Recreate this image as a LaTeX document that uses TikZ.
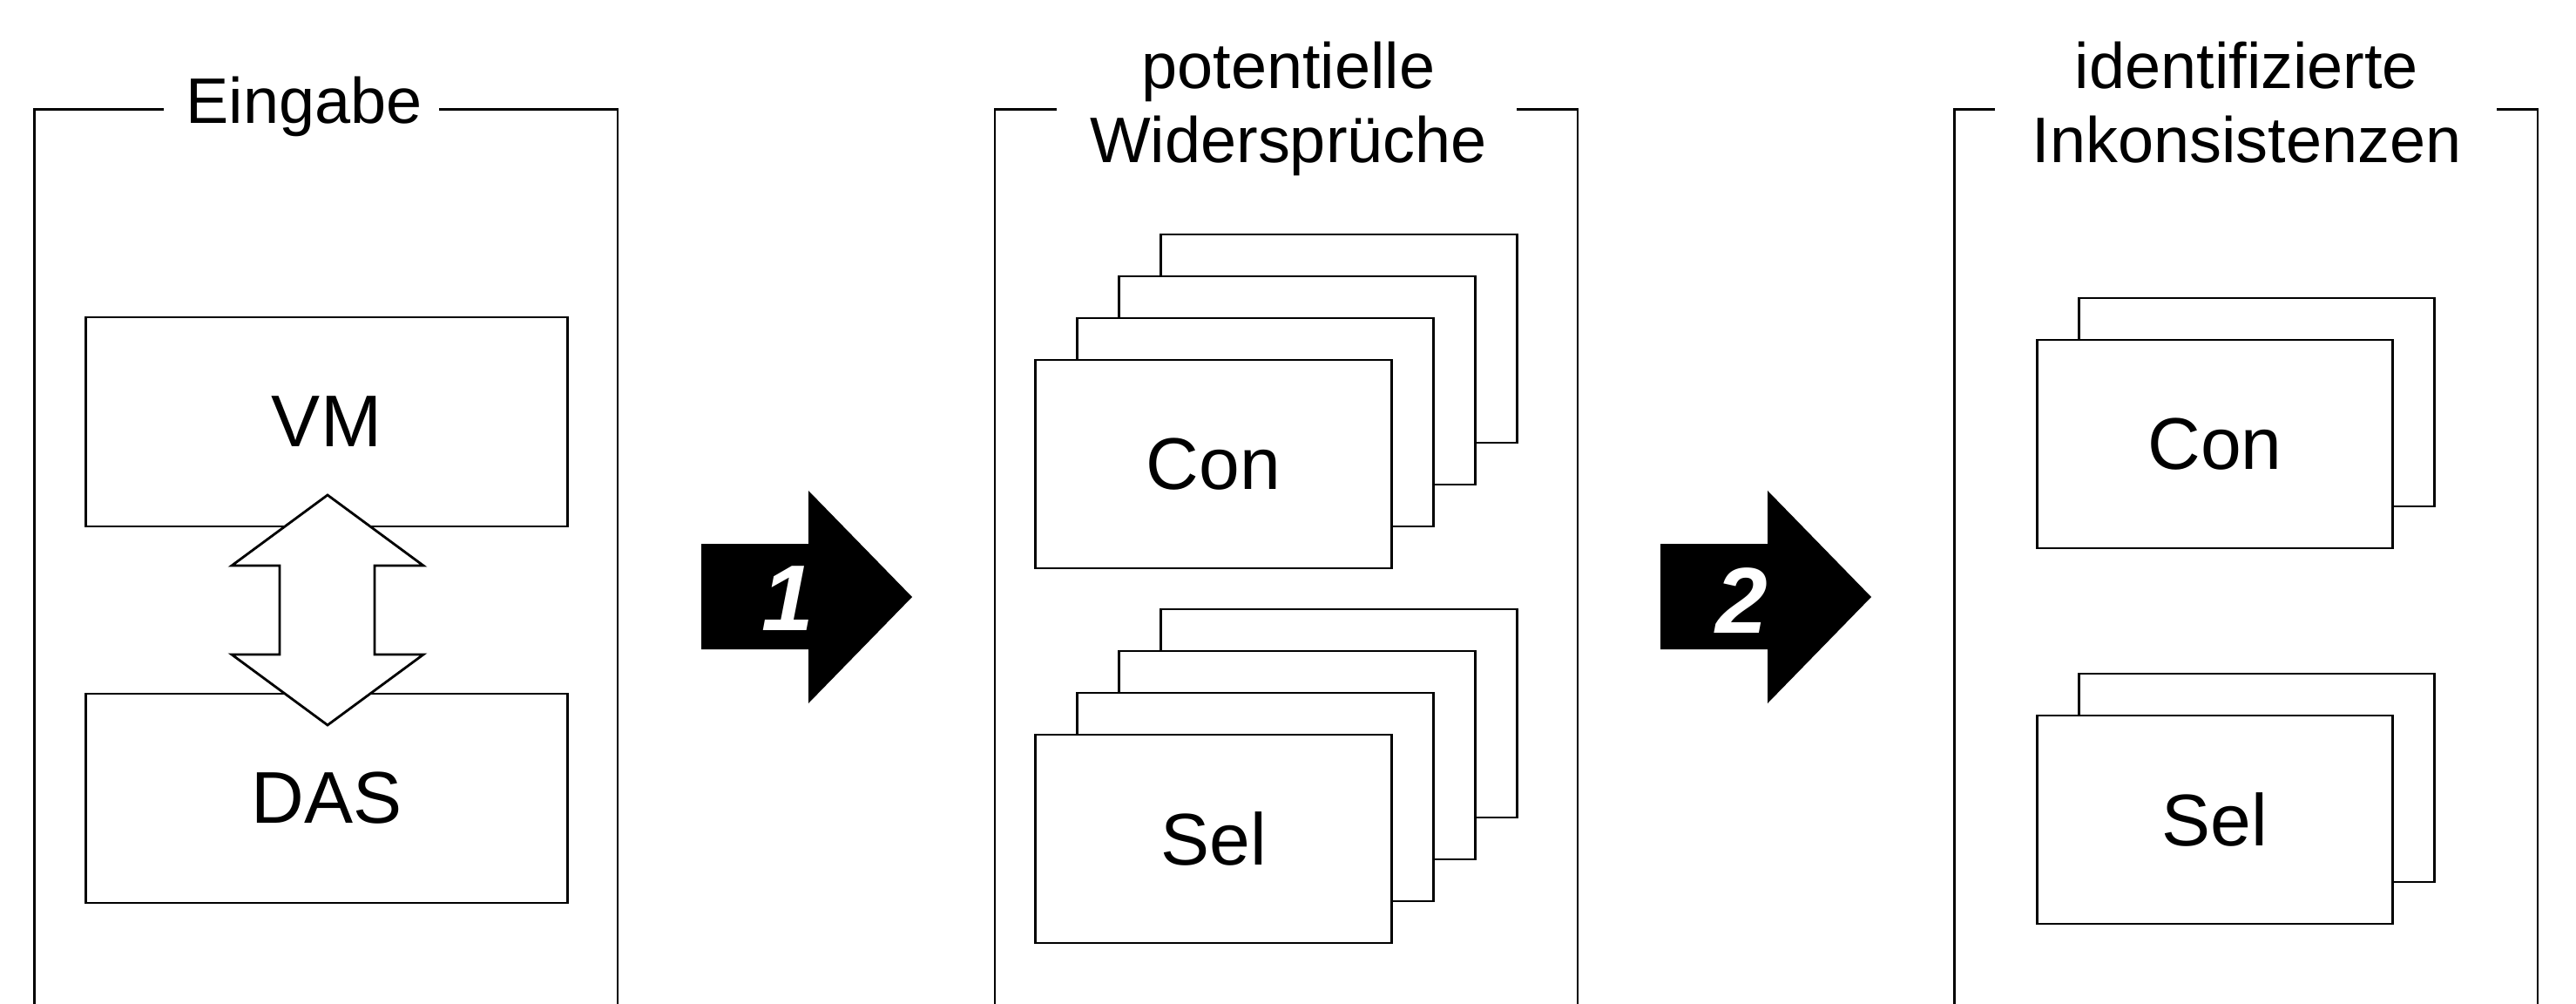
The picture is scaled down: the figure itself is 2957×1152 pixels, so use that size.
\documentclass[tikz,border=0pt]{standalone}
\usepackage{fontspec}
\setmainfont{Liberation Sans}
\begin{document}
\begin{tikzpicture}[x=0.01cm,y=-0.01cm,line width=0.8pt,
  box/.style={draw,fill=white,inner sep=0pt,minimum width=4.08cm,minimum height=2.39cm,font=\fontsize{23.9}{28}\selectfont},
  inbox/.style={box,minimum width=5.52cm,minimum height=2.40cm},
  ttl/.style={font=\fontsize{21}{25}\selectfont,anchor=base,inner sep=0pt},
  blk/.style={fill=black,draw=none},
  num/.style={text=white,font=\fontsize{30.5}{36}\selectfont\bfseries\itshape,inner sep=0pt},
  frame/.style={draw,line width=0.8pt}]
\useasboundingbox (0,0) rectangle (2957,1152);

% ---------- panel 1 ----------
\draw[frame] (188,125.5) -- (39.5,125.5) -- (39.5,1152);
\draw[frame] (504,125.5) -- (709,125.5) -- (709,1152);
\node[ttl] (t1) at (349,142) {Eingabe};
\node[inbox] (vm) at (375,484) {VM};
\node[inbox] (das) at (375,916) {DAS};
\draw[fill=white] (376,568) -- (486,649) -- (430,649) -- (430,751) -- (486,751) -- (376,832)
  -- (266,751) -- (321,751) -- (321,649) -- (266,649) -- cycle;

% ---------- arrow 1 ----------
\fill[blk] (805,624) -- (928,624) -- (928,563) -- (1047,685) -- (928,807) -- (928,745) -- (805,745) -- cycle;
\node[num] (n1) at (904,687) {1};

% ---------- panel 2 ----------
\draw[frame] (1213,125.5) -- (1142,125.5) -- (1142,1152);
\draw[frame] (1741,125.5) -- (1811,125.5) -- (1811,1152);
\node[ttl] (t2a) at (1479,102) {potentielle};
\node[ttl] (t2b) at (1479,187) {Widersprüche};
\node[box] (c2d) at (1537,388.5) {};
\node[box] (c2c) at (1489,436.5) {};
\node[box] (c2b) at (1441,484.5) {};
\node[box] (c2a) at (1393,532.5) {Con};
\node[box] (s2d) at (1537,818.5) {};
\node[box] (s2c) at (1489,866.5) {};
\node[box] (s2b) at (1441,914.5) {};
\node[box] (s2a) at (1393,962.5) {Sel};

% ---------- arrow 2 ----------
\fill[blk] (1906,624) -- (2029,624) -- (2029,563) -- (2148,685) -- (2029,807) -- (2029,745) -- (1906,745) -- cycle;
\node[num] (n2) at (1999,689) {2};

% ---------- panel 3 ----------
\draw[frame] (2290,125.5) -- (2243.5,125.5) -- (2243.5,1152);
\draw[frame] (2866,125.5) -- (2913,125.5) -- (2913,1152);
\node[ttl] (t3a) at (2579,102) {identifizierte};
\node[ttl] (t3b) at (2579,187) {Inkonsistenzen};
\node[box] (c3b) at (2590.5,461.5) {};
\node[box] (c3a) at (2542.5,509.5) {Con};
\node[box] (s3b) at (2590.5,892.5) {};
\node[box] (s3a) at (2542.5,940.5) {Sel};
\end{tikzpicture}
\end{document}
